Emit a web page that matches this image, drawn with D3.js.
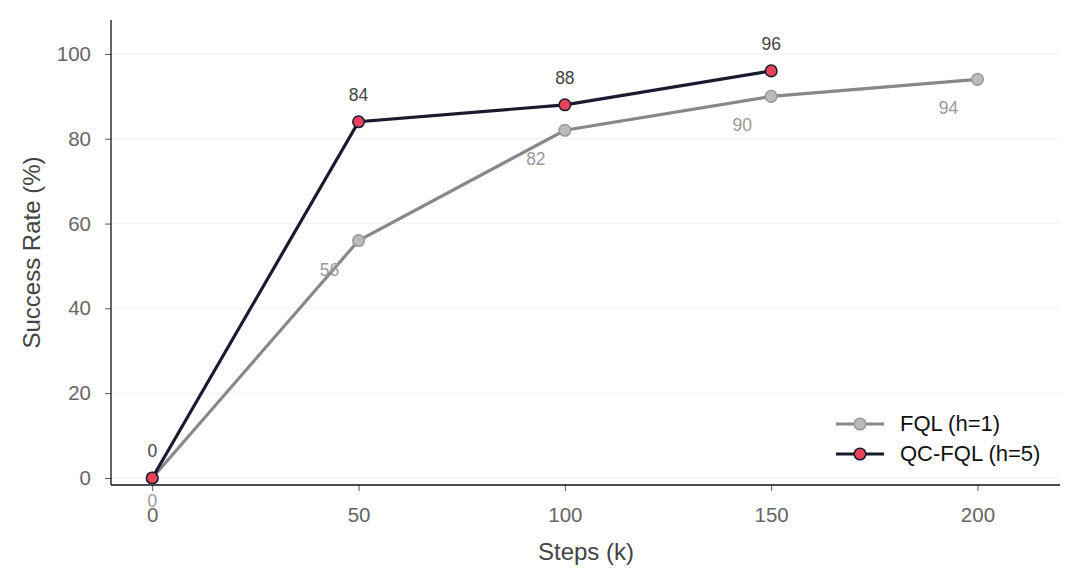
<!DOCTYPE html>
<html><head><meta charset="utf-8">
<script src="https://cdn.jsdelivr.net/npm/d3@7"></script>
<style>body{margin:0;background:#fff;} text{font-family:"Liberation Sans",Arial,Helvetica,sans-serif;}</style>
</head><body><svg id="c" width="1080" height="580"></svg>
<script>
const steps = [0, 50, 100, 150, 200];
const fqlValues = [0, 56, 82, 90, 94];
const qcSteps = [0, 50, 100, 150];
const qcValues = [0, 84, 88, 96];
const xTicks = [0, 50, 100, 150, 200];
const yTicks = [0, 20, 40, 60, 80, 100];
const seriesNames = ["FQL (h=1)", "QC-FQL (h=5)"];

const svg = d3.select("#c");
const L = 111, R = 1060, T = 20, B = 485;
const x = d3.scaleLinear().domain([-10, 220]).range([L, R]);
const y = d3.scaleLinear().domain([-1.65, 108]).range([B, T]);

// grid
svg.append("g").selectAll("line").data(yTicks).join("line")
  .attr("x1", L).attr("x2", R).attr("y1", d => y(d)).attr("y2", d => y(d))
  .attr("stroke", "#eeeeee").attr("stroke-width", 0.8);

// axes
const xa = svg.append("g").attr("transform", `translate(0,${B})`)
  .call(d3.axisBottom(x).tickValues(xTicks).tickSize(6).tickPadding(16));
const ya = svg.append("g").attr("transform", `translate(${L},0)`)
  .call(d3.axisLeft(y).tickValues(yTicks).tickSize(6).tickPadding(14));
[xa, ya].forEach(a => {
  a.select(".domain").remove();
  a.selectAll("line").attr("stroke", "#555");
  a.selectAll("text").attr("fill", "#666").style("font-size", "20.5px")
   .style("font-family", '"Liberation Sans",Arial,sans-serif');
});
svg.append("line").attr("x1", L).attr("x2", L).attr("y1", T).attr("y2", B).attr("stroke", "#111").attr("stroke-width", 1.3);
svg.append("line").attr("x1", L).attr("x2", R).attr("y1", B).attr("y2", B).attr("stroke", "#111").attr("stroke-width", 1.3);

svg.append("text").attr("x", 586).attr("y", 560).attr("text-anchor", "middle")
  .attr("fill", "#444").style("font-size", "24px").text("Steps (k)");
svg.append("text").attr("transform", `translate(40,${(T + B) / 2}) rotate(-90)`).attr("text-anchor", "middle")
  .attr("fill", "#444").style("font-size", "24px").text("Success Rate (%)");

const line = d3.line().x(d => x(d[0])).y(d => y(d[1]));
const fql = steps.map((s, i) => [s, fqlValues[i]]);
const qc = qcSteps.map((s, i) => [s, qcValues[i]]);

svg.append("path").datum(fql).attr("d", line).attr("fill", "none").attr("stroke", "#888888").attr("stroke-width", 3.2);
svg.append("g").selectAll("circle").data(fql).join("circle")
  .attr("cx", d => x(d[0])).attr("cy", d => y(d[1])).attr("r", 5.8)
  .attr("fill", "#bbbbbb").attr("stroke", "#999999").attr("stroke-width", 1.5);

svg.append("path").datum(qc).attr("d", line).attr("fill", "none").attr("stroke", "#1a1a2e").attr("stroke-width", 3.2);
svg.append("g").selectAll("circle").data(qc).join("circle")
  .attr("cx", d => x(d[0])).attr("cy", d => y(d[1])).attr("r", 5.8)
  .attr("fill", "#e8435a").attr("stroke", "#1a1a2e").attr("stroke-width", 1.5);

// labels
svg.append("g").selectAll("text").data(fql).join("text")
  .attr("x", d => x(d[0]) + (d[0] === 0 ? 0 : -29))
  .attr("y", d => y(d[1]) + (d[0] === 0 ? 29 : 35))
  .attr("text-anchor", "middle").attr("fill", "#999").style("font-size", "17.5px")
  .text(d => d[1]);
svg.append("g").selectAll("text").data(qc).join("text")
  .attr("x", d => x(d[0])).attr("y", d => y(d[1]) - 21)
  .attr("text-anchor", "middle").attr("fill", "#444").style("font-size", "17.5px")
  .text(d => d[1]);

// legend
const leg = svg.append("g");
const legStyles = [
  {stroke: "#888888", fill: "#bbbbbb", ms: "#999999"},
  {stroke: "#1a1a2e", fill: "#e8435a", ms: "#1a1a2e"}
];
seriesNames.forEach((n, i) => {
  const yy = 424 + i * 30;
  leg.append("line").attr("x1", 836).attr("x2", 884).attr("y1", yy).attr("y2", yy)
    .attr("stroke", legStyles[i].stroke).attr("stroke-width", 3.2);
  leg.append("circle").attr("cx", 860).attr("cy", yy).attr("r", 5.8)
    .attr("fill", legStyles[i].fill).attr("stroke", legStyles[i].ms).attr("stroke-width", 1.5);
  leg.append("text").attr("x", 900).attr("y", yy + 7).attr("fill", "#111").style("font-size", "22px").text(n);
});
</script></body></html>
